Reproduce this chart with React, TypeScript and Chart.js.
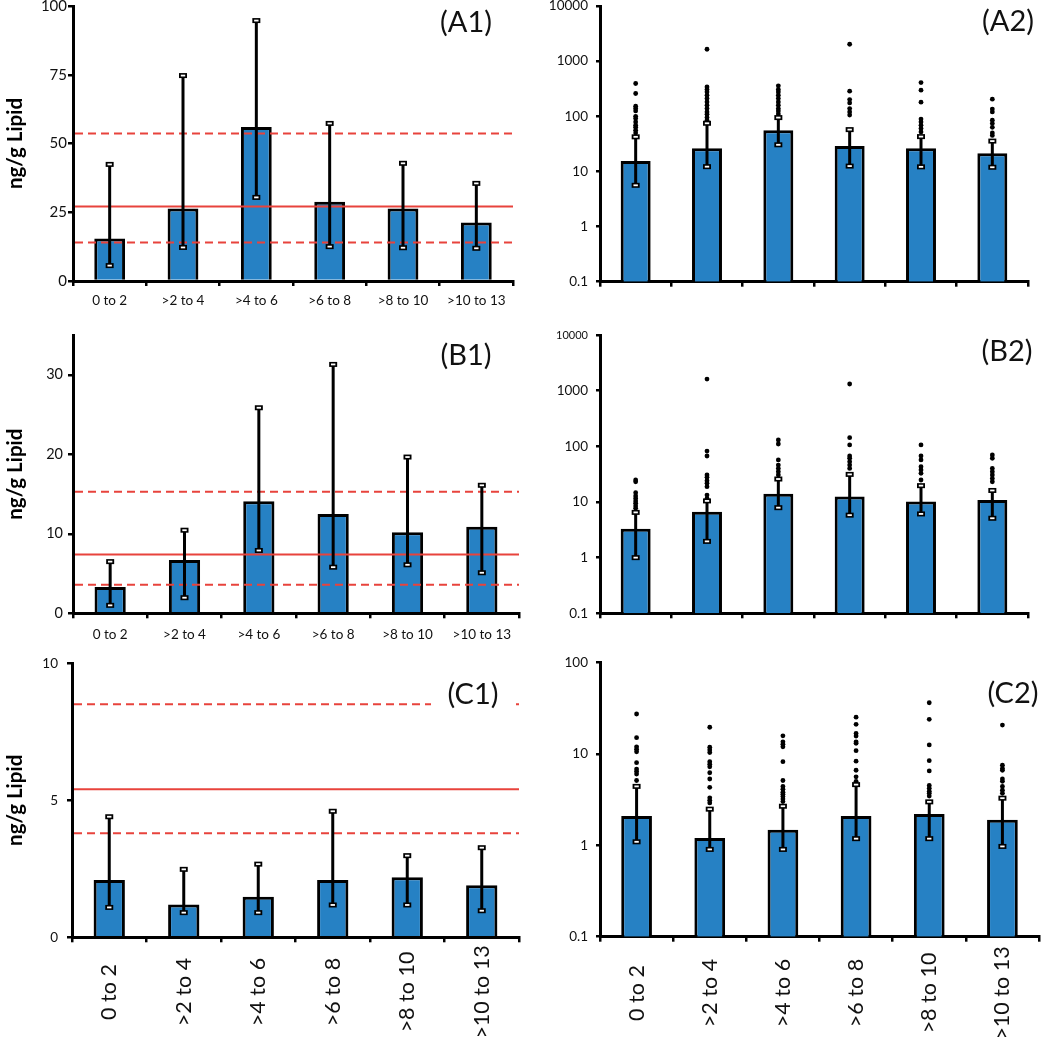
import React, { useEffect, useRef } from 'react';
import { Chart, registerables } from 'chart.js';

Chart.register(...registerables);

const FONT = 'Lato, "Open Sans", "DejaVu Sans", sans-serif';
const BAR_BLUE = '#2681C4';
const RED = '#E8433C';
const INK = '#111111';

// ---------- data ----------
const CATEGORIES = ['0 to 2', '>2 to 4', '>4 to 6', '>6 to 8', '>8 to 10', '>10 to 13'];

// Panel A (A1 linear, A2 log)
const A_MEAN = [15.5, 26.4, 56.0, 28.8, 26.4, 21.3];
const A_LOW = [5.6, 12.2, 30.4, 12.5, 12.1, 11.9];
const A_HIGH = [42.4, 74.7, 94.7, 57.3, 42.8, 35.5];
const A_REF_LOWER = 14.0;
const A_REF_CENTER = 27.1;
const A_REF_UPPER = 53.6;
const A_OUTLIERS = [
  [393, 259, 152, 138, 125, 100, 91, 79, 69, 63, 56, 50],
  [1643, 341, 306, 277, 241, 210, 182, 159, 138, 120, 109, 95, 85],
  [356, 306, 277, 241, 210, 182, 159, 138, 125, 110],
  [2023, 285, 201, 175, 138, 120, 105],
  [409, 297, 180, 89, 79, 69, 60, 52],
  [204, 135, 120, 85, 74, 63, 50, 45],
];

// Panel B
const B_MEAN = [3.3, 6.7, 14.1, 12.5, 10.2, 10.9];
const B_LOW = [1.0, 1.96, 7.9, 5.8, 6.1, 5.1];
const B_HIGH = [6.5, 10.45, 25.85, 31.3, 19.65, 16.1];
const B_REF_LOWER = 3.6;
const B_REF_CENTER = 7.4;
const B_REF_UPPER = 15.3;
const B_OUTLIERS = [
  [24.8, 23.1, 14.7, 12.8, 11.6, 10.4, 9.5, 8.5, 7.7],
  [1618, 82, 67, 30.5, 27.7, 24.1, 21.7, 18.8, 13.3, 11.6],
  [130, 110, 57, 46, 40, 35, 30.5],
  [1318, 143, 106, 67, 61, 53, 46, 40],
  [106, 67, 57, 43, 37.6, 32.7, 24.8],
  [70, 61, 40, 35, 30.5, 26.5, 23.1],
];

// Panel C
const C_MEAN = [2.09, 1.2, 1.48, 2.09, 2.19, 1.9];
const C_LOW = [1.09, 0.9, 0.9, 1.18, 1.18, 0.97];
const C_HIGH = [4.4, 2.48, 2.67, 4.6, 2.98, 3.27];
const C_REF_LOWER = 3.8;
const C_REF_CENTER = 5.4;
const C_REF_UPPER = 8.51;
const C_OUTLIERS = [
  [27.2, 15.0, 11.9, 11.2, 10.5, 8.0, 6.8, 6.4, 6.0, 5.1],
  [19.5, 11.8, 11.0, 10.3, 8.2, 7.7, 7.2, 6.2, 5.3, 4.3, 3.3, 3.1, 2.9],
  [15.7, 13.5, 12.7, 11.9, 8.2, 5.1, 4.4, 4.1, 3.8, 3.6, 3.4, 3.2, 3.0],
  [25.1, 21.0, 16.7, 15.6, 13.5, 13.0, 10.8, 8.3, 6.6, 5.6, 5.0],
  [36.1, 23.8, 12.5, 8.4, 6.5, 4.5, 4.2, 3.9, 3.7, 3.45],
  [20.6, 7.5, 6.9, 6.6, 5.3, 5.0, 4.4, 4.0, 3.7],
];

// tick values & labels
const A1_TICKS = [0, 25, 50, 75, 100];
const A1_TICK_LABELS = ['0', '25', '50', '75', '100'];
const B1_TICKS = [0, 10, 20, 30];
const B1_TICK_LABELS = ['0', '10', '20', '30'];
const C1_TICKS = [0, 5, 10];
const C1_TICK_LABELS = ['0', '5', '10'];
const LOG5_TICKS = [0.1, 1, 10, 100, 1000, 10000];
const LOG5_TICK_LABELS = ['0.1', '1', '10', '100', '1000', '10000'];
const LOG3_TICKS = [0.1, 1, 10, 100];
const LOG3_TICK_LABELS = ['0.1', '1', '10', '100'];

const Y_TITLE = 'ng/g Lipid';

// ---------- panel specs ----------
type RefLine = { value: number; dashed: boolean };
type Spec = {
  id: string;
  left: number; top: number; width: number; height: number;
  pad: { left: number; right: number; top: number; bottom: number };
  yWidth: number; xHeight: number;
  log: boolean; yMin: number; yMax: number;
  yTicks: number[]; yTickLabels: string[];
  yTickPad: number; yTickLen: number; yTickSize: number; smallTopLabel?: boolean;
  mean: number[]; low: number[]; high: number[];
  outliers?: number[][];
  refs?: RefLine[];
  title: boolean;
  xMode: 'horizontal' | 'rotated' | 'none';
  xLabelPad: number; rotY?: number;
  tag: string; tagX: number; tagY: number; tagMask?: [number, number];
};

const SPECS: Spec[] = [
  {
    id: 'A1', left: 0, top: 0, width: 525, height: 318,
    pad: { left: 0, right: 12, top: 6, bottom: 7 }, yWidth: 73, xHeight: 30,
    log: false, yMin: 0, yMax: 100, yTicks: A1_TICKS, yTickLabels: A1_TICK_LABELS,
    yTickPad: 1, yTickLen: 5, yTickSize: 15,
    mean: A_MEAN, low: A_LOW, high: A_HIGH,
    refs: [
      { value: A_REF_UPPER, dashed: true },
      { value: A_REF_CENTER, dashed: false },
      { value: A_REF_LOWER, dashed: true },
    ],
    title: true, xMode: 'horizontal', xLabelPad: 7,
    tag: '(A1)', tagX: 466, tagY: 23,
  },
  {
    id: 'A2', left: 525, top: 0, width: 525, height: 318,
    pad: { left: 0, right: 22, top: 6, bottom: 7 }, yWidth: 75, xHeight: 29.3,
    log: true, yMin: 0.1, yMax: 10000, yTicks: LOG5_TICKS, yTickLabels: LOG5_TICK_LABELS,
    yTickPad: 8, yTickLen: 4, yTickSize: 13.5,
    mean: A_MEAN, low: A_LOW, high: A_HIGH, outliers: A_OUTLIERS,
    title: false, xMode: 'none', xLabelPad: 7,
    tag: '(A2)', tagX: 1008, tagY: 22,
  },
  {
    id: 'B1', left: 0, top: 318, width: 525, height: 332,
    pad: { left: 0, right: 6, top: 17, bottom: 5 }, yWidth: 73, xHeight: 31.7,
    log: false, yMin: 0, yMax: 35, yTicks: B1_TICKS, yTickLabels: B1_TICK_LABELS,
    yTickPad: 5, yTickLen: 5, yTickSize: 14.5,
    mean: B_MEAN, low: B_LOW, high: B_HIGH,
    refs: [
      { value: B_REF_UPPER, dashed: true },
      { value: B_REF_CENTER, dashed: false },
      { value: B_REF_LOWER, dashed: true },
    ],
    title: true, xMode: 'horizontal', xLabelPad: 8,
    tag: '(B1)', tagX: 466, tagY: 356,
  },
  {
    id: 'B2', left: 525, top: 318, width: 525, height: 332,
    pad: { left: 0, right: 22, top: 17, bottom: 5 }, yWidth: 75, xHeight: 31.7,
    log: true, yMin: 0.1, yMax: 10000, yTicks: LOG5_TICKS, yTickLabels: LOG5_TICK_LABELS,
    yTickPad: 8, yTickLen: 4, yTickSize: 13.5, smallTopLabel: true,
    mean: B_MEAN, low: B_LOW, high: B_HIGH, outliers: B_OUTLIERS,
    title: false, xMode: 'none', xLabelPad: 8,
    tag: '(B2)', tagX: 1007, tagY: 352,
  },
  {
    id: 'C1', left: 0, top: 650, width: 525, height: 389,
    pad: { left: 0, right: 6, top: 13.3, bottom: 0 }, yWidth: 72, xHeight: 101.7,
    log: false, yMin: 0, yMax: 10, yTicks: C1_TICKS, yTickLabels: C1_TICK_LABELS,
    yTickPad: 9, yTickLen: 5, yTickSize: 13.5,
    mean: C_MEAN, low: C_LOW, high: C_HIGH,
    refs: [
      { value: C_REF_UPPER, dashed: true },
      { value: C_REF_CENTER, dashed: false },
      { value: C_REF_LOWER, dashed: true },
    ],
    title: true, xMode: 'rotated', xLabelPad: 8, rotY: 992,
    tag: '(C1)', tagX: 473, tagY: 695, tagMask: [431, 514],
  },
  {
    id: 'C2', left: 525, top: 650, width: 525, height: 389,
    pad: { left: 0, right: 11, top: 12.3, bottom: 0 }, yWidth: 75, xHeight: 102.3,
    log: true, yMin: 0.1, yMax: 100, yTicks: LOG3_TICKS, yTickLabels: LOG3_TICK_LABELS,
    yTickPad: 8, yTickLen: 4, yTickSize: 13.5,
    mean: C_MEAN, low: C_LOW, high: C_HIGH, outliers: C_OUTLIERS,
    title: false, xMode: 'rotated', xLabelPad: 8, rotY: 993,
    tag: '(C2)', tagX: 1013, tagY: 694,
  },
];

function zeroPadding(s: any) {
  s.paddingTop = 0;
  s.paddingBottom = 0;
  s.paddingLeft = 0;
  s.paddingRight = 0;
}

function Panel({ spec }: { spec: Spec }) {
  const ref = useRef<HTMLCanvasElement>(null);

  useEffect(() => {
    const canvas = ref.current;
    if (!canvas) return;
    const s = spec;

    const points = s.outliers
      ? s.outliers.flatMap((arr, i) => arr.map((v) => ({ x: CATEGORIES[i], y: v })))
      : [];

    const datasets: any[] = [
      {
        type: 'bar',
        data: s.mean,
        backgroundColor: BAR_BLUE,
        borderColor: '#000',
        borderWidth: 3,
        barPercentage: 0.42,
        categoryPercentage: 1,
        order: 2,
      },
    ];
    if (points.length) {
      datasets.push({
        type: 'scatter',
        data: points,
        pointRadius: 2.4,
        pointBackgroundColor: '#000',
        pointBorderColor: '#000',
        pointBorderWidth: 0,
        showLine: false,
        order: 1,
      });
    }

    const decor = {
      id: 'decor' + s.id,
      afterDatasetsDraw(chart: any) {
        const { ctx, chartArea } = chart;
        const x = chart.scales.x;
        const y = chart.scales.y;
        ctx.save();
        // reference lines
        (s.refs || []).forEach((r) => {
          const py = y.getPixelForValue(r.value);
          ctx.strokeStyle = RED;
          ctx.lineWidth = 2;
          ctx.setLineDash(r.dashed ? [8, 5] : []);
          ctx.beginPath();
          ctx.moveTo(chartArea.left + 2, py);
          ctx.lineTo(chartArea.right, py);
          ctx.stroke();
        });
        ctx.setLineDash([]);
        // error bars
        s.mean.forEach((_m, i) => {
          const px = x.getPixelForValue(i);
          const yl = y.getPixelForValue(s.low[i]);
          const yh = y.getPixelForValue(s.high[i]);
          ctx.strokeStyle = '#000';
          ctx.lineWidth = 3;
          ctx.beginPath();
          ctx.moveTo(px, yl);
          ctx.lineTo(px, yh);
          ctx.stroke();
          [yl, yh].forEach((cy) => {
            ctx.fillStyle = '#000';
            ctx.fillRect(px - 4, cy - 2.5, 8, 5);
            ctx.fillStyle = '#fff';
            ctx.fillRect(px - 2.2, cy - 0.9, 4.4, 1.8);
          });
        });
        ctx.restore();
      },
      afterDraw(chart: any) {
        const { ctx } = chart;
        const x = chart.scales.x;
        ctx.save();
        // panel tag
        ctx.font = `29px ${FONT}`;
        const tx = s.tagX - s.left;
        const ty = s.tagY - s.top;
        if (s.tagMask) {
          ctx.fillStyle = '#fff';
          ctx.fillRect(s.tagMask[0] - s.left, ty - 16, s.tagMask[1] - s.tagMask[0], 32);
        }
        ctx.fillStyle = INK;
        ctx.textAlign = 'center';
        ctx.textBaseline = 'middle';
        ctx.fillText(s.tag, tx, ty);
        // rotated category labels
        if (s.xMode === 'rotated' && s.rotY !== undefined) {
          ctx.font = `21.5px ${FONT}`;
          CATEGORIES.forEach((label, i) => {
            const px = x.getPixelForValue(i);
            ctx.save();
            ctx.translate(px, (s.rotY as number) - s.top);
            ctx.rotate(-Math.PI / 2);
            ctx.textAlign = 'center';
            ctx.textBaseline = 'middle';
            ctx.fillText(label, 0, 0);
            ctx.restore();
          });
        }
        ctx.restore();
      },
    };

    const chart = new Chart(canvas, {
      type: 'bar',
      data: { labels: CATEGORIES, datasets },
      options: {
        animation: false,
        responsive: false,
        events: [],
        layout: { padding: s.pad },
        plugins: {
          legend: { display: false },
          tooltip: { enabled: false },
        },
        scales: {
          x: {
            type: 'category',
            offset: true,
            afterFit: (sc: any) => {
              sc.height = s.xHeight;
              zeroPadding(sc);
            },
            ticks: {
              display: s.xMode === 'horizontal',
              font: { family: FONT, size: 13.5 },
              color: INK,
              padding: s.xLabelPad,
              maxRotation: 0,
              minRotation: 0,
              autoSkip: false,
            },
            grid: {
              display: true,
              offset: true,
              drawOnChartArea: false,
              drawTicks: true,
              tickLength: 5,
              color: '#000',
              lineWidth: 2.5,
            },
            border: { display: true, color: '#000', width: 3 },
          },
          y: {
            type: s.log ? 'logarithmic' : 'linear',
            min: s.yMin,
            max: s.yMax,
            afterBuildTicks: (sc: any) => {
              sc.ticks = s.yTicks.map((v) => ({ value: v }));
            },
            afterFit: (sc: any) => {
              sc.width = s.yWidth;
              zeroPadding(sc);
            },
            ticks: {
              autoSkip: false,
              color: INK,
              padding: s.yTickPad,
              font: (c: any) => ({
                family: FONT,
                size: s.smallTopLabel && c.tick && c.tick.value === 10000 ? 11 : s.yTickSize,
              }),
              callback: (_v: any, index: number) => s.yTickLabels[index],
            },
            grid: {
              display: true,
              drawOnChartArea: false,
              drawTicks: true,
              tickLength: s.yTickLen,
              color: '#000',
              lineWidth: 2.5,
            },
            border: { display: true, color: '#000', width: 3 },
            title: {
              display: s.title,
              text: Y_TITLE,
              color: '#000',
              font: { family: FONT, size: 20.5, weight: 'bold' },
              padding: { top: 3, bottom: 0 },
            },
          },
        },
      } as any,
      plugins: [decor],
    });

    return () => chart.destroy();
  }, [spec]);

  return (
    <canvas
      ref={ref}
      width={spec.width}
      height={spec.height}
      style={{
        position: 'absolute',
        left: spec.left,
        top: spec.top,
        width: spec.width,
        height: spec.height,
      }}
    />
  );
}

export default function App() {
  return (
    <div
      style={{
        position: 'fixed',
        left: 0,
        top: 0,
        width: 1050,
        height: 1039,
        background: '#fff',
        overflow: 'hidden',
      }}
    >
      {SPECS.map((spec) => (
        <Panel key={spec.id} spec={spec} />
      ))}
    </div>
  );
}
